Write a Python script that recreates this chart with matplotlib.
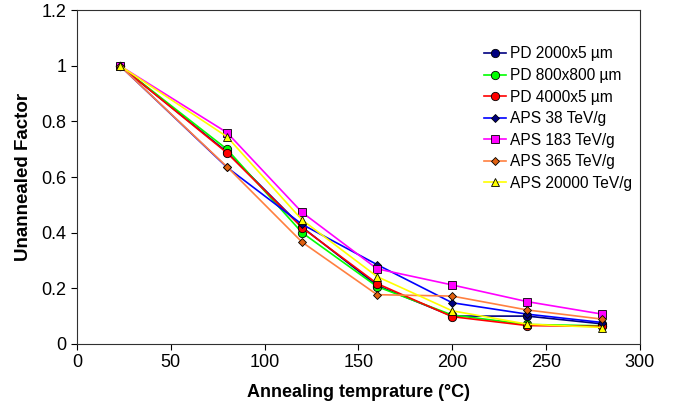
import matplotlib
matplotlib.use("Agg")
import matplotlib.pyplot as plt

plt.rcParams['font.family'] = ['Liberation Sans', 'DejaVu Sans']

temps = [23, 80, 120, 160, 200, 240, 280]

pd_2000x5 = [1.0, 0.69, 0.42, 0.21, 0.100, 0.100, 0.072]
pd_800x800 = [1.0, 0.70, 0.40, 0.206, 0.104, 0.070, 0.065]
pd_4000x5 = [1.0, 0.687, 0.418, 0.217, 0.098, 0.066, 0.063]
aps_38 = [1.0, 0.635, 0.43, 0.285, 0.148, 0.107, 0.077]
aps_183 = [1.0, 0.76, 0.473, 0.27, 0.212, 0.152, 0.107]
aps_365 = [1.0, 0.637, 0.366, 0.177, 0.172, 0.122, 0.089]
aps_20000 = [1.0, 0.745, 0.446, 0.242, 0.119, 0.071, 0.059]

series = [
    ("PD 2000x5 µm", pd_2000x5, "#000080", "o", "#000080", 6),
    ("PD 800x800 µm", pd_800x800, "#00FF00", "o", "#00FF00", 6),
    ("PD 4000x5 µm", pd_4000x5, "#FF0000", "o", "#FF0000", 6),
    ("APS 38 TeV/g", aps_38, "#0000FF", "D", "#000080", 4),
    ("APS 183 TeV/g", aps_183, "#FF00FF", "s", "#FF00FF", 6),
    ("APS 365 TeV/g", aps_365, "#FF8040", "D", "#E06010", 4),
    ("APS 20000 TeV/g", aps_20000, "#FFFF00", "^", "#FFFF00", 6),
]

fig = plt.figure(figsize=(6.8, 4.07), dpi=100)
ax = fig.add_axes([0.113, 0.155, 0.828, 0.82])

for name, vals, col, mk, mfc, ms in series:
    ax.plot(temps, vals, color=col, lw=1.2, marker=mk, markersize=ms,
            markerfacecolor=mfc, markeredgecolor="black", markeredgewidth=0.6,
            label=name)

ax.set_xlim(0, 300)
ax.set_ylim(0, 1.2)
ax.set_xticks(range(0, 301, 50))
ax.set_yticks([0, 0.2, 0.4, 0.6, 0.8, 1.0, 1.2])
ax.set_yticklabels(["0", "0.2", "0.4", "0.6", "0.8", "1", "1.2"])
ax.tick_params(labelsize=13, length=4, width=0.8)
for s in ax.spines.values():
    s.set_linewidth(0.8)
    s.set_color("#303030")

ax.set_xlabel("Annealing temprature (°C)", fontsize=13, fontweight="bold",
              labelpad=9)
ax.set_ylabel("Unannealed Factor", fontsize=13.5, fontweight="bold",
              labelpad=7)

ax.legend(loc="upper left", bbox_to_anchor=(0.712, 0.91), frameon=False,
          fontsize=11.2, handlelength=1.4, handletextpad=0.3, labelspacing=0.42,
          borderaxespad=0)

fig.savefig("out.png", dpi=100)
